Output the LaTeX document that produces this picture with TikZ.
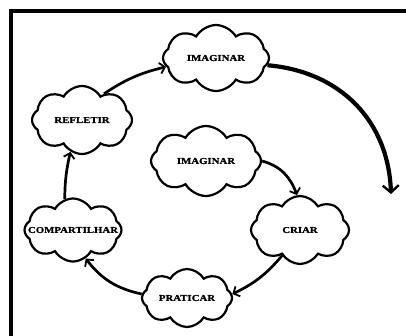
\documentclass[tikz,border=0pt]{standalone}
\usepackage{fontspec}
\newfontfamily\cloudfont[FakeStretch=1.2,FakeBold=1.2]{Liberation Serif Bold}
\usetikzlibrary{shapes.symbols,arrows.meta}
\tikzset{
  cloudbox/.style={cloud, cloud puffs=8, cloud puff arc=120, cloud ignores aspect,
    draw=black, line width=2.2pt, fill=white, inner sep=0pt,
    font=\cloudfont\fontsize{9}{10}\selectfont},
  flow/.style={line width=2.7pt, -{Straight Barb[length=5pt,width=11pt,line width=1.8pt]}},
  bigflow/.style={line width=4.2pt, -{Straight Barb[length=7pt,width=16pt,line width=2.4pt]}},
  frame/.style={line width=4pt, line cap=rect}
}
\begin{document}
\begin{tikzpicture}[x=1pt,y=-1pt]
\useasboundingbox (0,0) rectangle (406,335);
\clip (0,0) rectangle (406,335);
\fill[white] (0,0) rectangle (406,335);
\draw[frame] (11,345) -- (11,11) -- (420,11);

\node[cloudbox, minimum width=106pt, minimum height=66pt] (imag1) at (216,58) {\makebox[0pt]{IMAGINAR}};
\node[cloudbox, minimum width=100pt, minimum height=68pt] (refl) at (82,120) {\makebox[0pt]{REFLETIR}};
\node[cloudbox, minimum width=110pt, minimum height=70pt] (imag2) at (206,161) {\makebox[0pt]{IMAGINAR}};
\node[cloudbox, minimum width=97pt, minimum height=63pt] (comp) at (73,230) {\makebox[0pt]{COMPARTILHAR}};
\node[cloudbox, minimum width=98pt, minimum height=68pt] (criar) at (300,230) {\makebox[0pt]{CRIAR}};
\node[cloudbox, minimum width=90pt, minimum height=58pt] (prat) at (187,298) {\makebox[0pt]{PRATICAR}};

\coordinate (bigend) at (391,194);

\draw[flow] (refl.50) to[bend left=10] (imag1.190);
\draw[bigflow] (imag1.-8) to[out=-5,in=92,looseness=1.05] (bigend);
\draw[flow] (imag2.0) to[out=-15,in=110] (criar.95);
\draw[flow] (criar.-125) to[bend left=12] (prat.5);
\draw[flow] (prat.175) to[bend left=20] (comp.-66);
\draw[flow] (comp.105) to[bend left=6] (refl.-110);
\end{tikzpicture}
\end{document}
